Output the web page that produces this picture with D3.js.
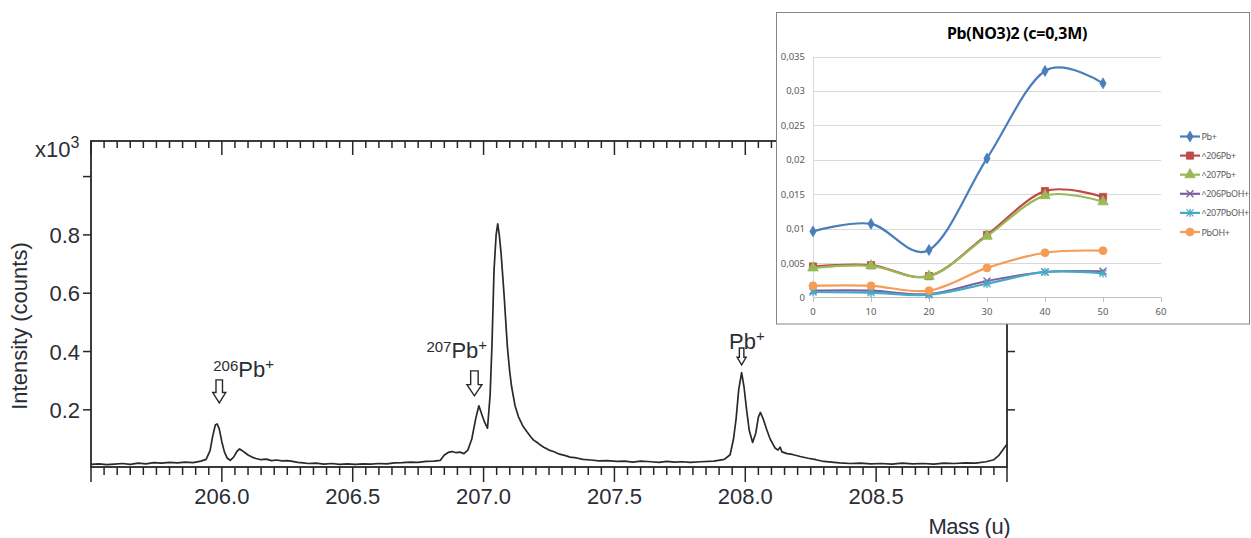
<!DOCTYPE html>
<html>
<head>
<meta charset="UTF-8">
<title>Pb spectrum</title>
<script src="https://d3js.org/d3.v7.min.js"></script>
<style>
  body { margin: 0; background: #fff; }
  svg { display: block; }
  .main text { font-family: "Liberation Sans", Arial, sans-serif; fill: #2b2d35; }
  .inset text { font-family: "Noto Sans", "Open Sans", sans-serif; fill: #595959; }
</style>
</head>
<body>
<svg width="1251" height="538"></svg>
<script>
// ---- spectrum (mass in u, intensity in x10^3 counts) ----
var specMass = [205.50,205.53,205.56,205.59,205.62,205.65,205.68,205.71,205.74,205.77,205.80,205.83,205.86,205.89,205.92,205.94,
  205.955,205.965,205.975,205.982,205.99,206.00,206.01,206.02,206.032,206.045,206.058,206.068,206.078,206.09,206.10,206.115,
  206.13,206.15,206.17,206.19,206.21,206.23,206.25,206.27,206.29,206.31,206.33,206.36,206.39,206.42,206.45,206.48,206.51,
  206.54,206.57,206.60,206.63,206.66,206.69,206.72,206.75,206.78,206.81,206.835,206.85,206.865,206.88,206.895,206.91,206.925,
  206.94,206.955,206.97,206.982,206.995,207.005,207.015,207.025,207.032,207.040,207.048,207.054,207.060,207.067,207.078,
  207.091,207.100,207.107,207.12,207.133,207.15,207.165,207.18,207.19,207.205,207.216,207.23,207.25,207.267,207.29,207.31,
  207.33,207.356,207.38,207.41,207.44,207.47,207.51,207.54,207.57,207.60,207.64,207.67,207.70,207.73,207.76,207.79,207.83,
  207.88,207.92,207.942,207.955,207.965,207.975,207.986,207.995,208.005,208.015,208.028,208.04,208.05,208.058,208.068,
  208.082,208.095,208.114,208.125,208.133,208.14,208.16,208.18,208.21,208.24,208.27,208.30,208.33,208.36,208.40,208.44,
  208.48,208.52,208.56,208.60,208.64,208.68,208.72,208.76,208.80,208.84,208.88,208.92,208.95,208.97,208.99,209.00];
var specInt = [0.013,0.015,0.012,0.014,0.016,0.013,0.017,0.015,0.019,0.017,0.020,0.018,0.021,0.019,0.024,0.030,
  0.060,0.110,0.148,0.152,0.135,0.090,0.055,0.035,0.027,0.038,0.058,0.066,0.060,0.052,0.045,0.038,
  0.033,0.029,0.031,0.026,0.028,0.025,0.026,0.023,0.020,0.018,0.016,0.017,0.014,0.016,0.013,0.015,0.013,
  0.015,0.014,0.016,0.015,0.018,0.019,0.021,0.020,0.023,0.024,0.027,0.045,0.054,0.057,0.053,0.055,0.050,
  0.062,0.100,0.170,0.214,0.180,0.155,0.137,0.250,0.420,0.680,0.800,0.838,0.800,0.736,0.599,
  0.416,0.330,0.280,0.215,0.177,0.145,0.126,0.108,0.097,0.088,0.080,0.072,0.062,0.057,0.048,0.044,
  0.038,0.035,0.030,0.028,0.025,0.026,0.023,0.024,0.021,0.024,0.022,0.020,0.023,0.021,0.022,0.020,0.022,
  0.024,0.030,0.046,0.100,0.170,0.270,0.328,0.280,0.200,0.130,0.088,0.120,0.175,0.191,0.170,
  0.132,0.100,0.069,0.062,0.072,0.056,0.050,0.047,0.040,0.034,0.029,0.023,0.021,0.018,0.016,0.017,
  0.015,0.016,0.014,0.017,0.015,0.016,0.014,0.017,0.016,0.018,0.017,0.022,0.029,0.045,0.070,0.082];

var massLabels = [206.0, 206.5, 207.0, 207.5, 208.0, 208.5];
var intLabels = [0.2, 0.4, 0.6, 0.8];

// peak annotations
var peakSup = ["206", "207", ""];
var peakBase = ["Pb", "Pb", "Pb"];
var peakMass = [205.99, 206.965, 207.986];
var arrowTip = [0.224, 0.248, 0.354];

// ---- inset: Pb(NO3)2 (c=0,3M) ----
var insetX = [0, 10, 20, 30, 40, 50];
var seriesNames = ["Pb+", "^206Pb+", "^207Pb+", "^206PbOH+", "^207PbOH+", "PbOH+"];
var pbPlus     = [0.0096, 0.0107, 0.0069, 0.0202, 0.0329, 0.0311];
var pb206      = [0.0045, 0.0047, 0.0031, 0.0091, 0.01545, 0.0146];
var pb207      = [0.0043, 0.0046, 0.0031, 0.0089, 0.0148, 0.0139];
var pb206OH    = [0.0010, 0.0010, 0.0005, 0.0024, 0.0037, 0.0038];
var pb207OH    = [0.0008, 0.0007, 0.0004, 0.0020, 0.0037, 0.0035];
var pbOH       = [0.0017, 0.0017, 0.0010, 0.0043, 0.0065, 0.0068];
var insetTicksY = [0, 0.005, 0.01, 0.015, 0.02, 0.025, 0.03, 0.035];
var insetTicksX = [0, 10, 20, 30, 40, 50, 60];

var svg = d3.select("svg");
var main = svg.append("g").attr("class", "main");

var x = d3.scaleLinear().domain([205.5, 209.0]).range([91, 1007]);
var y = d3.scaleLinear().domain([0.004, 1.122]).range([467, 141]);

var ink = "#26272d";
var minors = d3.range(0, 71).map(function(i) { return 205.5 + i * 0.05; });

// bottom axis (ticks outward)
main.selectAll(".bmin").data(minors).enter().append("line")
  .attr("x1", function(d) { return x(d); }).attr("x2", function(d) { return x(d); })
  .attr("y1", 467).attr("y2", function(d, i) { return i % 10 === 0 ? 482 : 475; })
  .attr("stroke", ink).attr("stroke-width", 1.5);
// top axis (ticks inward)
main.selectAll(".tmin").data(minors).enter().append("line")
  .attr("x1", function(d) { return x(d); }).attr("x2", function(d) { return x(d); })
  .attr("y1", 141).attr("y2", function(d, i) { return i % 10 === 0 ? 155 : 148; })
  .attr("stroke", ink).attr("stroke-width", 1.5);

// left / right ticks
var yt = intLabels.concat([1.0]);
main.selectAll(".ly").data(yt).enter().append("line")
  .attr("x1", 83).attr("x2", 91)
  .attr("y1", function(d) { return y(d); }).attr("y2", function(d) { return y(d); })
  .attr("stroke", ink).attr("stroke-width", 1.5);
main.selectAll(".ry").data(yt).enter().append("line")
  .attr("x1", 1007).attr("x2", 1015)
  .attr("y1", function(d) { return y(d); }).attr("y2", function(d) { return y(d); })
  .attr("stroke", ink).attr("stroke-width", 1.5);

main.append("rect").attr("x", 91).attr("y", 141).attr("width", 916).attr("height", 326)
  .attr("fill", "none").attr("stroke", ink).attr("stroke-width", 1.8);

main.selectAll(".xl").data(massLabels).enter().append("text")
  .attr("x", function(d) { return x(d); }).attr("y", 504)
  .attr("text-anchor", "middle").attr("font-size", 22)
  .text(function(d) { return d3.format(".1f")(d); });

main.selectAll(".yl").data(intLabels).enter().append("text")
  .attr("x", 80).attr("y", function(d) { return y(d) + 8; })
  .attr("text-anchor", "end").attr("font-size", 22)
  .text(function(d) { return d3.format(".1f")(d); });

var exp = main.append("text").attr("x", 35).attr("y", 157).attr("font-size", 22);
exp.append("tspan").text("x10");
exp.append("tspan").attr("font-size", 16).attr("dy", -9).text("3");

main.append("text").attr("transform", "translate(27,326) rotate(-90)")
  .attr("text-anchor", "middle").attr("font-size", 22).text("Intensity (counts)");

main.append("text").attr("x", 1010).attr("y", 534).attr("text-anchor", "end")
  .attr("font-size", 22).attr("letter-spacing", -0.5).text("Mass (u)");

// spectrum trace
var pts = specMass.map(function(m, i) { return [m, specInt[i]]; });
main.append("path").datum(pts)
  .attr("d", d3.line().x(function(d) { return x(d[0]); }).y(function(d) { return y(d[1]); }))
  .attr("fill", "none").attr("stroke", "#2a2a2a").attr("stroke-width", 1.7)
  .attr("stroke-linejoin", "round");

// annotations: hollow arrows + labels
var arrowLen = [23, 25, 17], arrowW = [13, 15, 9];
var labelDx = [-6, -48, -12.5], labelDy = [-3, -13, 1];
peakMass.forEach(function(m, i) {
  var cx = x(m), tip = y(arrowTip[i]), L = arrowLen[i], w = arrowW[i] / 2, s = w * 0.5, h = L * 0.45;
  var p = d3.path();
  p.moveTo(cx - s, tip - L); p.lineTo(cx + s, tip - L); p.lineTo(cx + s, tip - h);
  p.lineTo(cx + w, tip - h); p.lineTo(cx, tip); p.lineTo(cx - w, tip - h);
  p.lineTo(cx - s, tip - h); p.closePath();
  var t = main.append("text").attr("x", cx + labelDx[i]).attr("y", tip - L + labelDy[i]).attr("font-size", 22);
  if (peakSup[i]) t.append("tspan").attr("font-size", 15).attr("dy", -6).text(peakSup[i]);
  t.append("tspan").attr("dy", peakSup[i] ? 6 : 0).text(peakBase[i]);
  t.append("tspan").attr("font-size", 15).attr("dy", -8).text("+");
  main.append("path").attr("d", p.toString()).attr("fill", "#fff")
    .attr("stroke", ink).attr("stroke-width", 1.4).attr("stroke-linejoin", "miter");
});

// ---- inset chart ----
var inset = svg.append("g").attr("class", "inset");
inset.append("rect").attr("x", 776.5).attr("y", 12.5).attr("width", 473).attr("height", 311.5)
  .attr("fill", "#fff").attr("stroke", "#868686").attr("stroke-width", 1);

var ix = d3.scaleLinear().domain([0, 60]).range([813, 1161]);
var iy = d3.scaleLinear().domain([0, 0.035]).range([297.5, 56.5]);

inset.selectAll(".grid").data(insetTicksY.slice(1)).enter().append("line")
  .attr("x1", ix(0)).attr("x2", ix(60))
  .attr("y1", function(d) { return Math.round(iy(d)) + 0.5; }).attr("y2", function(d) { return Math.round(iy(d)) + 0.5; })
  .attr("stroke", "#d9d9d9").attr("stroke-width", 1);
inset.append("line").attr("x1", ix(0) + 0.5).attr("x2", ix(0) + 0.5).attr("y1", iy(0.035)).attr("y2", iy(0))
  .attr("stroke", "#d9d9d9");
inset.append("line").attr("x1", ix(0)).attr("x2", ix(60)).attr("y1", 297.5).attr("y2", 297.5)
  .attr("stroke", "#bfbfbf");
inset.selectAll(".xt").data(insetTicksX).enter().append("line")
  .attr("x1", function(d) { return Math.round(ix(d)) + 0.5; }).attr("x2", function(d) { return Math.round(ix(d)) + 0.5; })
  .attr("y1", 297.5).attr("y2", 302).attr("stroke", "#bfbfbf");

inset.selectAll(".xtl").data(insetTicksX).enter().append("text")
  .attr("x", function(d) { return ix(d); }).attr("y", 315)
  .attr("text-anchor", "middle").attr("font-size", 9.5).text(function(d) { return d; });
inset.selectAll(".ytl").data(insetTicksY).enter().append("text")
  .attr("x", 805).attr("y", function(d) { return iy(d) + 3.5; })
  .attr("text-anchor", "end").attr("font-size", 9.5)
  .text(function(d) { return d3.format(".3~f")(d).replace(".", ","); });

inset.append("text").attr("x", 1017).attr("y", 39).attr("text-anchor", "middle")
  .attr("font-size", 16).attr("font-weight", "bold").attr("letter-spacing", -0.3).style("fill", "#000")
  .text("Pb(NO3)2 (c=0,3M)");

var colors = ["#4a7ebb", "#be4b48", "#98b954", "#7d60a0", "#46aac5", "#f59d56"];
var allSeries = [pbPlus, pb206, pb207, pb206OH, pb207OH, pbOH];

function starPath(r) {
  var p = d3.path();
  p.moveTo(-r, -r); p.lineTo(r, r); p.moveTo(r, -r); p.lineTo(-r, r);
  p.moveTo(0, -r * 1.2); p.lineTo(0, r * 1.2);
  return p.toString();
}
function xPath(r) {
  var p = d3.path();
  p.moveTo(-r, -r); p.lineTo(r, r); p.moveTo(r, -r); p.lineTo(-r, r);
  return p.toString();
}
var markers = [
  { fill: true, d: d3.symbol().type(d3.symbolDiamond).size(34)() },
  { fill: true, d: d3.symbol().type(d3.symbolSquare).size(52)() },
  { fill: true, d: d3.symbol().type(d3.symbolTriangle).size(48)() },
  { fill: false, d: xPath(3.5) },
  { fill: false, d: starPath(3.5) },
  { fill: true, d: d3.symbol().type(d3.symbolCircle).size(50)() }
];

var iline = d3.line().curve(d3.curveCatmullRom.alpha(0))
  .x(function(d, i) { return ix(insetX[i]); }).y(function(d) { return iy(d); });

allSeries.forEach(function(vals, s) {
  var g = inset.append("g");
  g.append("path").attr("d", iline(vals)).attr("fill", "none")
    .attr("stroke", colors[s]).attr("stroke-width", 2.2);
  g.selectAll("path.m").data(vals).enter().append("path").attr("class", "m")
    .attr("transform", function(d, i) { return "translate(" + ix(insetX[i]) + "," + iy(d) + ")"; })
    .attr("d", markers[s].d)
    .attr("fill", markers[s].fill ? colors[s] : "none")
    .attr("stroke", colors[s]).attr("stroke-width", markers[s].fill ? 0.8 : 1.3);
  // legend entry
  var ly = 136.5 + s * 19.1;
  g.append("line").attr("x1", 1180).attr("x2", 1200).attr("y1", ly).attr("y2", ly)
    .attr("stroke", colors[s]).attr("stroke-width", 2.2);
  g.append("path").attr("transform", "translate(1190," + ly + ")").attr("d", markers[s].d)
    .attr("fill", markers[s].fill ? colors[s] : "none")
    .attr("stroke", colors[s]).attr("stroke-width", markers[s].fill ? 0.8 : 1.3);
  g.append("text").attr("x", 1201.5).attr("y", ly + 3.5).attr("font-size", 9)
    .attr("letter-spacing", -0.35).text(seriesNames[s]);
});
</script>
</body>
</html>
